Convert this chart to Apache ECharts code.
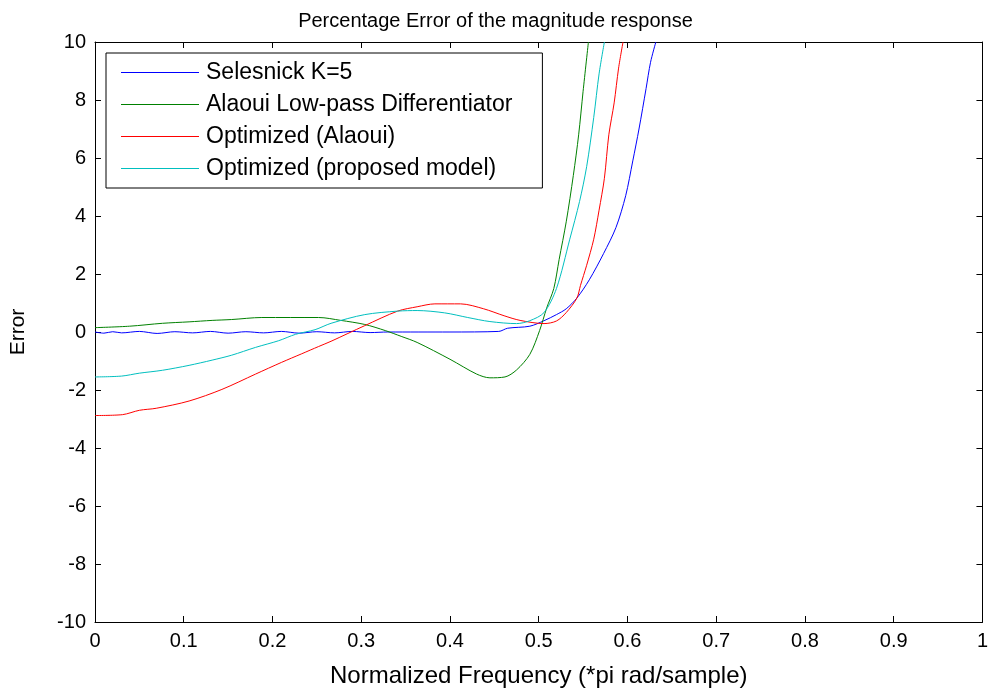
<!DOCTYPE html>
<html>
<head>
<meta charset="utf-8">
<script src="https://cdn.jsdelivr.net/npm/echarts@6/dist/echarts.min.js"></script>
<style>
  html, body { margin: 0; padding: 0; background: #fff; }
  #chart { width: 991px; height: 693px; }
</style>
</head>
<body>
<div id="chart"></div>
<script>
// Percentage error of the magnitude response for four differentiator designs.
// Frequencies are normalized (*pi rad/sample); errors in percent.

const seriesNames = [
  'Selesnick K=5',
  'Alaoui Low-pass Differentiator',
  'Optimized (Alaoui)',
  'Optimized (proposed model)'
];

const selesnickFreq = [0, 0.01, 0.02, 0.03, 0.05, 0.07, 0.09, 0.11, 0.13, 0.15, 0.17, 0.19, 0.21, 0.23, 0.25, 0.27, 0.29, 0.31, 0.33, 0.40, 0.455, 0.465, 0.49, 0.506, 0.52, 0.531, 0.543, 0.557, 0.573, 0.587, 0.598, 0.606, 0.613, 0.621, 0.626, 0.632];
const selesnickErr  = [0, -0.04, 0.01, -0.03, 0.02, -0.05, 0.01, -0.03, 0.02, -0.04, 0.01, -0.03, 0.02, -0.04, 0.01, -0.03, 0.02, -0.02, 0, 0, 0.02, 0.13, 0.2, 0.39, 0.6, 0.8, 1.17, 1.8, 2.7, 3.6, 4.7, 5.9, 7.0, 8.4, 9.3, 10];

const alaouiFreq = [0, 0.039, 0.076, 0.106, 0.132, 0.154, 0.188, 0.252, 0.277, 0.304, 0.327, 0.345, 0.363, 0.4, 0.43, 0.445, 0.462, 0.475, 0.49, 0.501, 0.509, 0.517, 0.523, 0.531, 0.539, 0.545, 0.55, 0.556];
const alaouiErr  = [0.15, 0.2, 0.3, 0.35, 0.4, 0.43, 0.5, 0.5, 0.4, 0.26, 0.05, -0.15, -0.36, -0.94, -1.45, -1.58, -1.55, -1.31, -0.77, 0.05, 0.83, 1.5, 2.5, 3.8, 5.4, 6.8, 8.3, 10];

const optAlaouiFreq = [0, 0.031, 0.05, 0.069, 0.106, 0.143, 0.181, 0.21, 0.233, 0.252, 0.266, 0.304, 0.341, 0.363, 0.383, 0.412, 0.438, 0.461, 0.479, 0.506, 0.52, 0.531, 0.543, 0.547, 0.554, 0.562, 0.568, 0.574, 0.579, 0.585, 0.59, 0.595];
const optAlaouiErr  = [-2.88, -2.85, -2.7, -2.63, -2.38, -1.98, -1.45, -1.05, -0.75, -0.5, -0.32, 0.22, 0.72, 0.87, 0.97, 0.97, 0.8, 0.56, 0.4, 0.29, 0.38, 0.67, 1.17, 1.6, 2.3, 3.2, 4.2, 5.3, 6.8, 7.9, 9.1, 10];

const proposedFreq = [0, 0.03, 0.05, 0.076, 0.106, 0.132, 0.154, 0.181, 0.207, 0.226, 0.248, 0.266, 0.304, 0.341, 0.363, 0.394, 0.42, 0.445, 0.475, 0.49, 0.506, 0.52, 0.535, 0.546, 0.554, 0.562, 0.568, 0.574];
const proposedErr  = [-1.55, -1.52, -1.42, -1.32, -1.15, -0.97, -0.8, -0.53, -0.3, -0.08, 0.08, 0.3, 0.6, 0.72, 0.74, 0.66, 0.5, 0.36, 0.29, 0.39, 0.67, 1.5, 3.2, 4.5, 5.7, 7.4, 8.9, 10];

const seriesColors = ['#0000ff', '#008000', '#ff0000', '#00bfbf'];

const xTicks = [0, 0.1, 0.2, 0.3, 0.4, 0.5, 0.6, 0.7, 0.8, 0.9, 1];

function pairs(xs, ys) {
  return xs.map((x, i) => [x, ys[i]]);
}

const dataSets = [
  pairs(selesnickFreq, selesnickErr),
  pairs(alaouiFreq, alaouiErr),
  pairs(optAlaouiFreq, optAlaouiErr),
  pairs(proposedFreq, proposedErr)
];

const sansFont = '"Liberation Sans", Arial, sans-serif';

const chart = echarts.init(document.getElementById('chart'), null, { renderer: 'canvas' });

const boxAxisLine = { show: true, onZero: false, lineStyle: { color: '#000', width: 1 } };
const innerTick = { show: true, inside: true, length: 6, lineStyle: { color: '#000' } };

chart.setOption({
  backgroundColor: '#fff',
  animation: false,
  title: {
    text: 'Percentage Error of the magnitude response',
    left: 'center',
    top: 6,
    textStyle: { fontFamily: sansFont, fontSize: 20, fontWeight: 'normal', color: '#000' }
  },
  legend: {
    orient: 'vertical',
    left: 106,
    top: 53,
    padding: [8, 30, 8, 15],
    itemWidth: 78,
    itemHeight: 14,
    itemGap: 9,
    backgroundColor: '#fff',
    borderColor: '#000',
    borderWidth: 1,
    borderRadius: 0,
    textStyle: { fontFamily: sansFont, fontSize: 23, color: '#000', padding: [0, 0, 0, 2] },
    data: seriesNames.map(n => ({ name: n, icon: 'path://M0,0 L80,0 L80,1 L0,1 Z' }))
  },
  grid: { left: 95, right: 2, top: 42, bottom: 66, containLabel: false },
  xAxis: [
    {
      type: 'value',
      min: 0, max: 1, interval: 0.1,
      position: 'bottom',
      axisLine: boxAxisLine,
      axisTick: innerTick,
      splitLine: { show: false },
      axisLabel: {
        margin: 9,
        fontFamily: sansFont, fontSize: 20, color: '#000',
        formatter: v => {
          const t = xTicks.find(k => Math.abs(k - v) < 1e-9);
          return t === undefined ? '' : (t === 0 || t === 1 ? String(t) : t.toFixed(1));
        }
      },
      name: 'Normalized Frequency (*pi rad/sample)',
      nameLocation: 'middle',
      nameGap: 42,
      nameTextStyle: { fontFamily: sansFont, fontSize: 24, color: '#000' }
    },
    {
      type: 'value',
      min: 0, max: 1, interval: 0.1,
      position: 'top',
      axisLine: boxAxisLine,
      axisTick: innerTick,
      axisLabel: { show: false },
      splitLine: { show: false }
    }
  ],
  yAxis: [
    {
      type: 'value',
      min: -10, max: 10, interval: 2,
      position: 'left',
      axisLine: boxAxisLine,
      axisTick: innerTick,
      splitLine: { show: false },
      axisLabel: { margin: 9, fontFamily: sansFont, fontSize: 20, color: '#000' },
      name: 'Error',
      nameLocation: 'middle',
      nameGap: 66,
      nameTextStyle: { fontFamily: sansFont, fontSize: 21, color: '#000' }
    },
    {
      type: 'value',
      min: -10, max: 10, interval: 2,
      position: 'right',
      axisLine: boxAxisLine,
      axisTick: innerTick,
      axisLabel: { show: false },
      splitLine: { show: false }
    }
  ],
  series: seriesNames.map((name, i) => ({
    name: name,
    type: 'line',
    xAxisIndex: 0,
    yAxisIndex: 0,
    data: dataSets[i],
    symbol: 'none',
    smooth: 0.3,
    clip: true,
    color: seriesColors[i],
    lineStyle: { color: seriesColors[i], width: 1 },
    z: 2 + i
  }))
});
</script>
</body>
</html>
